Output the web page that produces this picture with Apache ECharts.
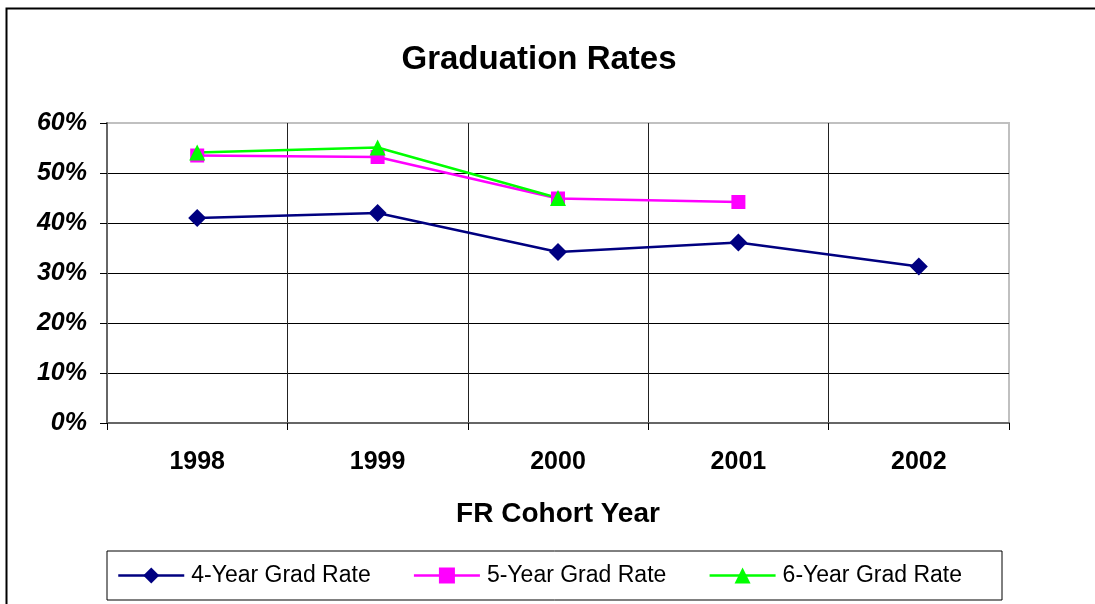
<!DOCTYPE html>
<html>
<head>
<meta charset="utf-8">
<script src="https://cdn.jsdelivr.net/npm/echarts@6/dist/echarts.min.js"></script>
<style>
  html, body { margin: 0; padding: 0; background: #fff; }
  #chart { width: 1095px; height: 604px; }
</style>
</head>
<body>
<div id="chart"></div>
<script>
// cohort years and rates (percent), null = no data yet
var years = ['1998', '1999', '2000', '2001', '2002'];
var rate4 = [41.0, 42.0, 34.2, 36.1, 31.3];
var rate5 = [53.5, 53.2, 44.9, 44.2, null];
var rate6 = [54.1, 55.1, 45.0, null, null];

var font = '"Liberation Sans", Arial, sans-serif';

var myChart = echarts.init(document.getElementById('chart'), null, { renderer: 'canvas' });

function lineSeries(name, data, color, symbol, size) {
  return {
    name: name,
    type: 'line',
    data: data,
    symbol: symbol,
    symbolSize: size,
    showAllSymbol: true,
    connectNulls: false,
    itemStyle: { color: color },
    lineStyle: { color: color, width: 2.5 },
    emphasis: { disabled: true },
    animation: false
  };
}

var option = {
  backgroundColor: '#fff',
  animation: false,
  graphic: [{
    type: 'rect',
    shape: { x: 6.5, y: 8.5, width: 1200, height: 700 },
    style: { fill: 'none', stroke: '#000', lineWidth: 2 },
    silent: true
  }],
  title: {
    text: 'Graduation Rates',
    left: 534,
    top: 38,
    textAlign: 'center',
    textStyle: { fontFamily: font, fontSize: 33, fontWeight: 'bold', color: '#000' }
  },
  legend: {
    left: 107,
    top: 551,
    padding: [13, 40, 13, 10],
    itemGap: 42,
    itemWidth: 66,
    itemHeight: 20,
    borderColor: '#000',
    borderWidth: 1,
    backgroundColor: '#fff',
    lineStyle: { width: 2.5 },
    data: ['4-Year Grad Rate', '5-Year Grad Rate', '6-Year Grad Rate'],
    textStyle: { fontFamily: font, fontSize: 23, color: '#000', padding: [0, 0, 0, 2] }
  },
  grid: {
    left: 107,
    right: 86,
    top: 123,
    bottom: 181,
    show: true,
    borderColor: '#c0c0c0',
    borderWidth: 2
  },
  xAxis: {
    type: 'category',
    data: years,
    boundaryGap: true,
    name: 'FR Cohort Year',
    nameLocation: 'middle',
    nameGap: 77,
    nameTextStyle: { fontFamily: font, fontSize: 28, fontWeight: 'bold', color: '#000' },
    axisLine: { lineStyle: { color: '#666', width: 2 } },
    axisTick: { show: true, length: 7, lineStyle: { color: '#000' } },
    axisLabel: { margin: 27, fontFamily: font, fontSize: 25, fontWeight: 'bold', color: '#000' },
    splitLine: { show: true, lineStyle: { color: ['#666', '#222', '#222', '#222', '#222', '#c0c0c0'], width: 1 } }
  },
  yAxis: {
    type: 'value',
    min: 0,
    max: 60,
    interval: 10,
    axisLine: { show: true, lineStyle: { color: '#666', width: 2 } },
    axisTick: { show: true, length: 7, lineStyle: { color: '#000' } },
    axisLabel: {
      margin: 20,
      fontFamily: font,
      fontSize: 25,
      fontWeight: 'bold',
      fontStyle: 'italic',
      color: '#000',
      formatter: function (v) { return v + '%'; }
    },
    splitLine: { show: true, lineStyle: { color: ['#666', '#000', '#000', '#000', '#000', '#000', '#c0c0c0'], width: 1 } }
  },
  series: [
    lineSeries('4-Year Grad Rate', rate4, '#000080', 'diamond', 18),
    lineSeries('5-Year Grad Rate', rate5, '#ff00ff', 'rect', 14),
    lineSeries('6-Year Grad Rate', rate6, '#00ff00', 'triangle', 16)
  ]
};

myChart.setOption(option);
window.onresize = myChart.resize;
</script>
</body>
</html>
